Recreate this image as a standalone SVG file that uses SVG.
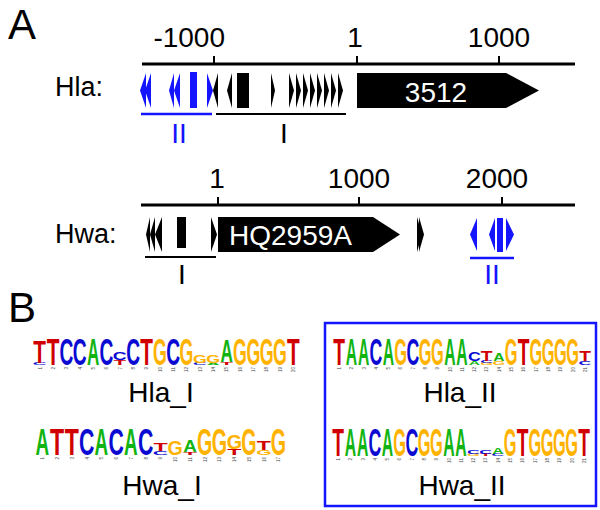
<svg xmlns="http://www.w3.org/2000/svg" width="600" height="510" viewBox="0 0 600 510">
<style>
.t{font-family:"Liberation Sans",Arial,sans-serif;fill:#000}
.big{font-size:42px}
.lab{font-size:27px}
.ax{font-size:28px}
.wt{font-size:28px;fill:#fff}
.bt{fill:#1414ff}
.axis{stroke:#000;stroke-width:3;fill:none}
.tick{stroke:#000;stroke-width:2}
.ulk{stroke:#000;stroke-width:2}
.ulb{stroke:#1414ff;stroke-width:2.5}
.k{fill:#000}
.b{fill:#1414ff}
.lg{font-family:"Liberation Sans",Arial,sans-serif;font-weight:bold;font-size:10px;text-anchor:middle}
.A{fill:#12b412}.C{fill:#0a0ad2}.G{fill:#ffb300}.T{fill:#d00000}
.n{font-family:"Liberation Sans",Arial,sans-serif;font-size:4.5px;fill:#444;text-anchor:end}
</style>

<g id="panelA">
<text class="t big" x="8" y="39">A</text>

<g id="hla-track">
<text class="t lab" x="55" y="96">Hla:</text>
<line class="axis" x1="142" y1="64" x2="575" y2="64"/>
<line class="tick" x1="214" y1="56" x2="214" y2="64"/>
<line class="tick" x1="357" y1="56" x2="357" y2="64"/>
<line class="tick" x1="499" y1="56" x2="499" y2="64"/>
<text class="t ax" x="225" y="47" text-anchor="end">-1000</text>
<text class="t ax" x="355" y="47" text-anchor="middle">1</text>
<text class="t ax" x="499" y="47" text-anchor="middle">1000</text>
<g id="hla-blue-sites" class="b">
<polygon points="140,90.5 146,73 146,108"/>
<polygon points="145,90.5 151,73 151,108"/>
<polygon points="169,90.5 174,73 174,108"/>
<polygon points="174,90.5 180,73 180,108"/>
<rect x="190" y="72" width="7" height="36"/>
<polygon points="207,73 213,90.5 207,108"/>
</g>
<g id="hla-black-sites" class="k">
<polygon points="213,90.5 218,73 218,108"/>
<polygon points="227,90.5 232,73 232,108"/>
<rect x="237" y="73" width="12" height="35"/>
<polygon points="271,73 275,90.5 271,108"/>
<polygon points="289,73 294,90.5 289,108"/>
<polygon points="296,73 301,90.5 296,108"/>
<polygon points="303,73 308,90.5 303,108"/>
<polygon points="310,73 315,90.5 310,108"/>
<polygon points="317,73 322,90.5 317,108"/>
<polygon points="324,73 329,90.5 324,108"/>
<polygon points="331,73 336,90.5 331,108"/>
<polygon points="338,73 343,90.5 338,108"/>
</g>
<g id="gene-3512">
<polygon class="k" points="357,73 506,73 539,90.5 506,108 357,108"/>
<text class="t wt" x="436" y="102" text-anchor="middle">3512</text>
</g>
<line class="ulb" x1="141" y1="114" x2="212" y2="114"/>
<line class="ulk" x1="216" y1="114" x2="346" y2="114"/>
<text class="t ax bt" x="179" y="143" text-anchor="middle">II</text>
<text class="t ax" x="284" y="143" text-anchor="middle">I</text>
</g>

<g id="hwa-track">
<text class="t lab" x="55" y="243">Hwa:</text>
<line class="axis" x1="141" y1="205" x2="575" y2="205"/>
<line class="tick" x1="218" y1="197" x2="218" y2="205"/>
<line class="tick" x1="359" y1="197" x2="359" y2="205"/>
<line class="tick" x1="502" y1="197" x2="502" y2="205"/>
<text class="t ax" x="217" y="188" text-anchor="middle">1</text>
<text class="t ax" x="359" y="188" text-anchor="middle">1000</text>
<text class="t ax" x="497" y="188" text-anchor="middle">2000</text>
<g id="hwa-black-sites" class="k">
<polygon points="146,234.5 150,217 150,252"/>
<polygon points="150,234.5 155,217 155,252"/>
<polygon points="155,234.5 162,217 162,252"/>
<rect x="177" y="217" width="9" height="31"/>
<polygon points="211,217 217,234.5 211,252"/>
<polygon points="417,217 422,234.5 417,252"/>
<polygon points="419,217 424,234.5 419,252"/>
</g>
<g id="gene-HQ2959A">
<polygon class="k" points="218,217 373,217 400,234.5 373,252 218,252"/>
<text class="t wt" x="229" y="245">HQ2959A</text>
</g>
<g id="hwa-blue-sites" class="b">
<polygon points="470,234.5 477,218 477,251"/>
<polygon points="489,234.5 495,218 495,251"/>
<rect x="497" y="218" width="6" height="34"/>
<polygon points="506,218 514,234.5 506,251"/>
</g>
<line class="ulk" x1="145" y1="257" x2="216" y2="257"/>
<line class="ulb" x1="470" y1="258" x2="514" y2="258"/>
<text class="t ax" x="182" y="284" text-anchor="middle">I</text>
<text class="t ax bt" x="492" y="284" text-anchor="middle">II</text>
</g>
</g>

<g id="panelB">
<text class="t big" x="8" y="322">B</text>
<rect x="325" y="323" width="271" height="183" fill="none" stroke="#1414ff" stroke-width="2.5"/>

<g id="logo-Hla_I">
<text class="lg C" transform="matrix(1.92,0,0,0.28,39.7,365)">C</text>
<text class="lg T" transform="matrix(2.08,0,0,3.21,39.7,363)">T</text>
<text class="lg T" transform="matrix(2.08,0,0,3.63,53.0,365)">T</text>
<text class="lg C" transform="matrix(1.92,0,0,3.63,66.4,365)">C</text>
<text class="lg C" transform="matrix(1.92,0,0,3.63,79.7,365)">C</text>
<text class="lg A" transform="matrix(1.71,0,0,3.63,93.1,365)">A</text>
<text class="lg C" transform="matrix(1.92,0,0,3.63,106.4,365)">C</text>
<text class="lg T" transform="matrix(2.08,0,0,0.70,119.8,365)">T</text>
<text class="lg C" transform="matrix(1.92,0,0,1.12,119.8,360)">C</text>
<text class="lg C" transform="matrix(1.92,0,0,3.63,133.1,365)">C</text>
<text class="lg T" transform="matrix(2.08,0,0,3.63,146.5,365)">T</text>
<text class="lg G" transform="matrix(1.78,0,0,3.63,159.8,365)">G</text>
<text class="lg C" transform="matrix(1.92,0,0,3.63,173.2,365)">C</text>
<text class="lg G" transform="matrix(1.78,0,0,3.63,186.5,365)">G</text>
<text class="lg C" transform="matrix(1.92,0,0,0.28,199.9,365)">C</text>
<text class="lg G" transform="matrix(1.78,0,0,1.12,199.9,363)">G</text>
<text class="lg A" transform="matrix(1.71,0,0,0.28,213.2,365)">A</text>
<text class="lg G" transform="matrix(1.78,0,0,1.12,213.2,363)">G</text>
<text class="lg T" transform="matrix(2.08,0,0,0.42,226.6,365)">T</text>
<text class="lg A" transform="matrix(1.71,0,0,3.07,226.6,362)">A</text>
<text class="lg G" transform="matrix(1.78,0,0,3.63,239.9,365)">G</text>
<text class="lg G" transform="matrix(1.78,0,0,3.63,253.3,365)">G</text>
<text class="lg G" transform="matrix(1.78,0,0,3.63,266.6,365)">G</text>
<text class="lg G" transform="matrix(1.78,0,0,3.63,280.0,365)">G</text>
<text class="lg T" transform="matrix(2.08,0,0,3.63,293.3,365)">T</text>
<g class="n">
<text transform="translate(41.5,367) rotate(-90)">1</text>
<text transform="translate(54.8,367) rotate(-90)">2</text>
<text transform="translate(68.2,367) rotate(-90)">3</text>
<text transform="translate(81.5,367) rotate(-90)">4</text>
<text transform="translate(94.9,367) rotate(-90)">5</text>
<text transform="translate(108.2,367) rotate(-90)">6</text>
<text transform="translate(121.6,367) rotate(-90)">7</text>
<text transform="translate(134.9,367) rotate(-90)">8</text>
<text transform="translate(148.3,367) rotate(-90)">9</text>
<text transform="translate(161.6,367) rotate(-90)">10</text>
<text transform="translate(175.0,367) rotate(-90)">11</text>
<text transform="translate(188.3,367) rotate(-90)">12</text>
<text transform="translate(201.7,367) rotate(-90)">13</text>
<text transform="translate(215.0,367) rotate(-90)">14</text>
<text transform="translate(228.4,367) rotate(-90)">15</text>
<text transform="translate(241.7,367) rotate(-90)">16</text>
<text transform="translate(255.1,367) rotate(-90)">17</text>
<text transform="translate(268.4,367) rotate(-90)">18</text>
<text transform="translate(281.8,367) rotate(-90)">19</text>
<text transform="translate(295.1,367) rotate(-90)">20</text>
</g>
<text class="t ax" x="161" y="402" text-anchor="middle">Hla_I</text>
</g>

<g id="logo-Hwa_I">
<text class="lg A" transform="matrix(1.89,0,0,3.77,42.4,455)">A</text>
<text class="lg T" transform="matrix(2.31,0,0,3.77,57.1,455)">T</text>
<text class="lg T" transform="matrix(2.31,0,0,3.77,71.9,455)">T</text>
<text class="lg C" transform="matrix(2.13,0,0,3.77,86.7,455)">C</text>
<text class="lg A" transform="matrix(1.89,0,0,3.77,101.4,455)">A</text>
<text class="lg C" transform="matrix(2.13,0,0,3.77,116.2,455)">C</text>
<text class="lg A" transform="matrix(1.89,0,0,3.77,130.9,455)">A</text>
<text class="lg C" transform="matrix(2.13,0,0,3.77,145.7,455)">C</text>
<text class="lg C" transform="matrix(2.13,0,0,0.56,160.5,455)">C</text>
<text class="lg T" transform="matrix(2.31,0,0,1.12,160.5,451)">T</text>
<text class="lg G" transform="matrix(1.97,0,0,1.96,175.2,455)">G</text>
<text class="lg T" transform="matrix(2.31,0,0,0.42,190.0,455)">T</text>
<text class="lg A" transform="matrix(1.89,0,0,1.68,190.0,452)">A</text>
<text class="lg G" transform="matrix(1.97,0,0,3.77,204.7,455)">G</text>
<text class="lg G" transform="matrix(1.97,0,0,3.77,219.5,455)">G</text>
<text class="lg T" transform="matrix(2.31,0,0,0.84,234.3,455)">T</text>
<text class="lg G" transform="matrix(1.97,0,0,1.96,234.3,449)">G</text>
<text class="lg G" transform="matrix(1.97,0,0,3.77,249.0,455)">G</text>
<text class="lg G" transform="matrix(1.97,0,0,0.70,263.8,455)">G</text>
<text class="lg T" transform="matrix(2.31,0,0,1.26,263.8,450)">T</text>
<text class="lg G" transform="matrix(1.97,0,0,3.77,278.5,455)">G</text>
<g class="n">
<text transform="translate(44.2,457) rotate(-90)">1</text>
<text transform="translate(58.9,457) rotate(-90)">2</text>
<text transform="translate(73.7,457) rotate(-90)">3</text>
<text transform="translate(88.5,457) rotate(-90)">4</text>
<text transform="translate(103.2,457) rotate(-90)">5</text>
<text transform="translate(118.0,457) rotate(-90)">6</text>
<text transform="translate(132.7,457) rotate(-90)">7</text>
<text transform="translate(147.5,457) rotate(-90)">8</text>
<text transform="translate(162.3,457) rotate(-90)">9</text>
<text transform="translate(177.0,457) rotate(-90)">10</text>
<text transform="translate(191.8,457) rotate(-90)">11</text>
<text transform="translate(206.5,457) rotate(-90)">12</text>
<text transform="translate(221.3,457) rotate(-90)">13</text>
<text transform="translate(236.1,457) rotate(-90)">14</text>
<text transform="translate(250.8,457) rotate(-90)">15</text>
<text transform="translate(265.6,457) rotate(-90)">16</text>
<text transform="translate(280.3,457) rotate(-90)">17</text>
</g>
<text class="t ax" x="162" y="495" text-anchor="middle">Hwa_I</text>
</g>

<g id="logo-Hla_II">
<text class="lg T" transform="matrix(1.92,0,0,3.63,339.1,365)">T</text>
<text class="lg A" transform="matrix(1.57,0,0,3.63,351.4,365)">A</text>
<text class="lg A" transform="matrix(1.57,0,0,3.63,363.7,365)">A</text>
<text class="lg C" transform="matrix(1.77,0,0,3.63,376.0,365)">C</text>
<text class="lg A" transform="matrix(1.57,0,0,3.63,388.3,365)">A</text>
<text class="lg G" transform="matrix(1.64,0,0,3.63,400.6,365)">G</text>
<text class="lg C" transform="matrix(1.77,0,0,3.63,412.9,365)">C</text>
<text class="lg G" transform="matrix(1.64,0,0,3.63,425.2,365)">G</text>
<text class="lg G" transform="matrix(1.64,0,0,3.63,437.5,365)">G</text>
<text class="lg A" transform="matrix(1.57,0,0,3.63,449.8,365)">A</text>
<text class="lg A" transform="matrix(1.57,0,0,3.63,462.0,365)">A</text>
<text class="lg A" transform="matrix(1.57,0,0,0.56,474.3,365)">A</text>
<text class="lg C" transform="matrix(1.77,0,0,1.26,474.3,361)">C</text>
<text class="lg G" transform="matrix(1.64,0,0,0.28,486.6,365)">G</text>
<text class="lg C" transform="matrix(1.77,0,0,0.28,486.6,363)">C</text>
<text class="lg T" transform="matrix(1.92,0,0,1.54,486.6,361)">T</text>
<text class="lg G" transform="matrix(1.64,0,0,0.56,498.9,365)">G</text>
<text class="lg A" transform="matrix(1.57,0,0,1.12,498.9,361)">A</text>
<text class="lg G" transform="matrix(1.64,0,0,3.63,511.2,365)">G</text>
<text class="lg T" transform="matrix(1.92,0,0,3.63,523.5,365)">T</text>
<text class="lg G" transform="matrix(1.64,0,0,3.63,535.8,365)">G</text>
<text class="lg G" transform="matrix(1.64,0,0,3.63,548.1,365)">G</text>
<text class="lg G" transform="matrix(1.64,0,0,3.63,560.4,365)">G</text>
<text class="lg G" transform="matrix(1.64,0,0,3.63,572.7,365)">G</text>
<text class="lg C" transform="matrix(1.77,0,0,0.56,585.0,365)">C</text>
<text class="lg T" transform="matrix(1.92,0,0,1.54,585.0,361)">T</text>
<g class="n">
<text transform="translate(340.9,367) rotate(-90)">1</text>
<text transform="translate(353.2,367) rotate(-90)">2</text>
<text transform="translate(365.5,367) rotate(-90)">3</text>
<text transform="translate(377.8,367) rotate(-90)">4</text>
<text transform="translate(390.1,367) rotate(-90)">5</text>
<text transform="translate(402.4,367) rotate(-90)">6</text>
<text transform="translate(414.7,367) rotate(-90)">7</text>
<text transform="translate(427.0,367) rotate(-90)">8</text>
<text transform="translate(439.3,367) rotate(-90)">9</text>
<text transform="translate(451.6,367) rotate(-90)">10</text>
<text transform="translate(463.8,367) rotate(-90)">11</text>
<text transform="translate(476.1,367) rotate(-90)">12</text>
<text transform="translate(488.4,367) rotate(-90)">13</text>
<text transform="translate(500.7,367) rotate(-90)">14</text>
<text transform="translate(513.0,367) rotate(-90)">15</text>
<text transform="translate(525.3,367) rotate(-90)">16</text>
<text transform="translate(537.6,367) rotate(-90)">17</text>
<text transform="translate(549.9,367) rotate(-90)">18</text>
<text transform="translate(562.2,367) rotate(-90)">19</text>
<text transform="translate(574.5,367) rotate(-90)">20</text>
<text transform="translate(586.8,367) rotate(-90)">21</text>
</g>
<text class="t ax" x="460" y="402" text-anchor="middle">Hla_II</text>
</g>

<g id="logo-Hwa_II">
<text class="lg T" transform="matrix(1.92,0,0,3.91,338.1,456)">T</text>
<text class="lg A" transform="matrix(1.57,0,0,3.91,350.4,456)">A</text>
<text class="lg A" transform="matrix(1.57,0,0,3.91,362.7,456)">A</text>
<text class="lg C" transform="matrix(1.77,0,0,3.91,375.0,456)">C</text>
<text class="lg A" transform="matrix(1.57,0,0,3.91,387.3,456)">A</text>
<text class="lg G" transform="matrix(1.64,0,0,3.91,399.6,456)">G</text>
<text class="lg C" transform="matrix(1.77,0,0,3.91,411.9,456)">C</text>
<text class="lg G" transform="matrix(1.64,0,0,3.91,424.2,456)">G</text>
<text class="lg G" transform="matrix(1.64,0,0,3.91,436.5,456)">G</text>
<text class="lg A" transform="matrix(1.57,0,0,3.91,448.8,456)">A</text>
<text class="lg A" transform="matrix(1.57,0,0,3.91,461.0,456)">A</text>
<text class="lg G" transform="matrix(1.64,0,0,0.28,473.3,456)">G</text>
<text class="lg C" transform="matrix(1.77,0,0,0.56,473.3,454)">C</text>
<text class="lg T" transform="matrix(1.92,0,0,0.28,485.6,456)">T</text>
<text class="lg C" transform="matrix(1.77,0,0,0.56,485.6,454)">C</text>
<text class="lg C" transform="matrix(1.77,0,0,0.28,497.9,456)">C</text>
<text class="lg A" transform="matrix(1.57,0,0,0.84,497.9,454)">A</text>
<text class="lg G" transform="matrix(1.64,0,0,3.91,510.2,456)">G</text>
<text class="lg T" transform="matrix(1.92,0,0,3.91,522.5,456)">T</text>
<text class="lg G" transform="matrix(1.64,0,0,3.91,534.8,456)">G</text>
<text class="lg G" transform="matrix(1.64,0,0,3.91,547.1,456)">G</text>
<text class="lg G" transform="matrix(1.64,0,0,3.91,559.4,456)">G</text>
<text class="lg G" transform="matrix(1.64,0,0,3.91,571.7,456)">G</text>
<text class="lg T" transform="matrix(1.92,0,0,3.91,584.0,456)">T</text>
<g class="n">
<text transform="translate(339.9,458) rotate(-90)">1</text>
<text transform="translate(352.2,458) rotate(-90)">2</text>
<text transform="translate(364.5,458) rotate(-90)">3</text>
<text transform="translate(376.8,458) rotate(-90)">4</text>
<text transform="translate(389.1,458) rotate(-90)">5</text>
<text transform="translate(401.4,458) rotate(-90)">6</text>
<text transform="translate(413.7,458) rotate(-90)">7</text>
<text transform="translate(426.0,458) rotate(-90)">8</text>
<text transform="translate(438.3,458) rotate(-90)">9</text>
<text transform="translate(450.6,458) rotate(-90)">10</text>
<text transform="translate(462.8,458) rotate(-90)">11</text>
<text transform="translate(475.1,458) rotate(-90)">12</text>
<text transform="translate(487.4,458) rotate(-90)">13</text>
<text transform="translate(499.7,458) rotate(-90)">14</text>
<text transform="translate(512.0,458) rotate(-90)">15</text>
<text transform="translate(524.3,458) rotate(-90)">16</text>
<text transform="translate(536.6,458) rotate(-90)">17</text>
<text transform="translate(548.9,458) rotate(-90)">18</text>
<text transform="translate(561.2,458) rotate(-90)">19</text>
<text transform="translate(573.5,458) rotate(-90)">20</text>
<text transform="translate(585.8,458) rotate(-90)">21</text>
</g>
<text class="t ax" x="462" y="495" text-anchor="middle">Hwa_II</text>
</g>
</g>
</svg>
